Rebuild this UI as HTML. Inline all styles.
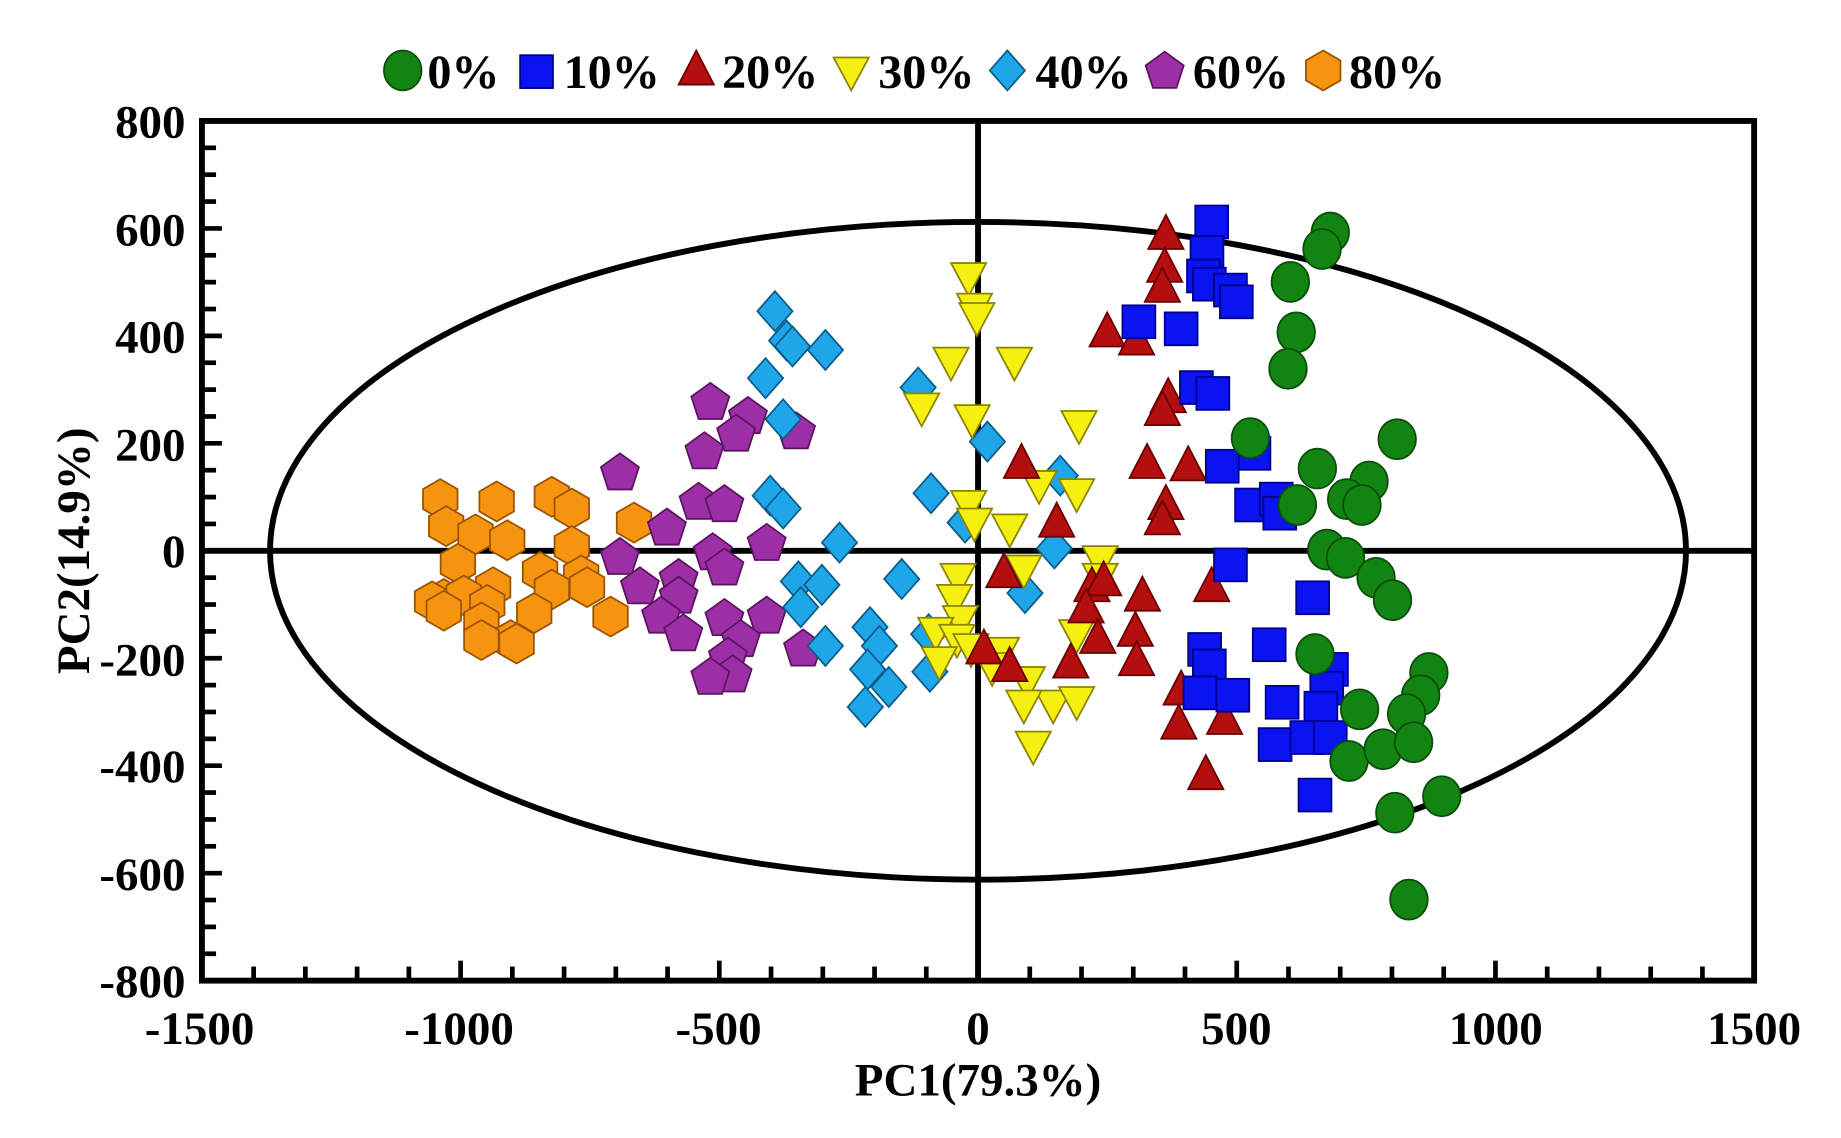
<!DOCTYPE html>
<html><head><meta charset="utf-8"><style>html,body{margin:0;padding:0;background:#fff}svg{display:block}</style></head>
<body>
<svg id="s" width="1841" height="1138" viewBox="0 0 1568 969" preserveAspectRatio="none" xmlns="http://www.w3.org/2000/svg" font-family="Liberation Serif, serif" font-weight="bold">
<rect width="1568" height="969" fill="#fff"/>
<g id="ticks" stroke="#000" stroke-width="4"></g>
<ellipse cx="833" cy="469" rx="603" ry="280" fill="none" stroke="#000" stroke-width="5"/>
<line x1="172" y1="469" x2="1494" y2="469" stroke="#000" stroke-width="5"/>
<line x1="833" y1="103" x2="833" y2="835" stroke="#000" stroke-width="5"/>
<g id="pts"></g>
<rect x="172" y="103" width="1322" height="732" fill="none" stroke="#000" stroke-width="5"/>
<g font-size="40" text-anchor="end">
<text x="158" y="117">800</text><text x="158" y="209">600</text><text x="158" y="300">400</text><text x="158" y="392">200</text><text x="158" y="483">0</text><text x="158" y="575">-200</text><text x="158" y="666">-400</text><text x="158" y="758">-600</text><text x="158" y="849">-800</text>
</g>
<g font-size="40" text-anchor="middle">
<text x="170" y="889">-1500</text><text x="391" y="889">-1000</text><text x="612" y="889">-500</text><text x="833" y="889">0</text><text x="1053" y="889">500</text><text x="1274" y="889">1000</text><text x="1494" y="889">1500</text>
<text x="833" y="933" font-size="40">PC1(79.3%)</text>
<text transform="translate(76,469) rotate(-90)" font-size="40">PC2(14.9%)</text>
</g>
<g id="leg"></g>
<g font-size="41">
<text x="364" y="75">0%</text><text x="480" y="75">10%</text><text x="615" y="75">20%</text><text x="748" y="75">30%</text><text x="882" y="75">40%</text><text x="1016" y="75">60%</text><text x="1149" y="75">80%</text>
</g>
</svg>
<script>
var NS="http://www.w3.org/2000/svg";
function el(p,t,a){var e=document.createElementNS(NS,t);for(var k in a)e.setAttribute(k,a[k]);p.appendChild(e);return e;}
var tk=document.getElementById('ticks');
for(var v=-1500;v<=1500;v+=100){var x=833+v*0.4407;var L=(v%500==0)?17:12;el(tk,'line',{x1:x,y1:835,x2:x,y2:835-L});}
for(var v=-800;v<=800;v+=50){var y=469-v*0.4575;var L=(v%200==0)?17:12;el(tk,'line',{x1:172,y1:y,x2:172+L,y2:y});}
function poly(n,r,rot){var s=[];for(var i=0;i<n;i++){var a=rot+i*2*Math.PI/n;s.push((r*Math.cos(a)).toFixed(1)+','+(r*Math.sin(a)).toFixed(1));}return s.join(' ');}
var shapes={
c:function(g,x,y){el(g,'ellipse',{cx:x,cy:y,rx:16,ry:17,fill:'#118411',stroke:'#0b4d0b','stroke-width':1.5});},
s:function(g,x,y){el(g,'rect',{x:x-14,y:y-14,width:28,height:28,fill:'#0a14f0',stroke:'#00008a','stroke-width':1.5});},
t:function(g,x,y){el(g,'polygon',{points:(x)+','+(y-17)+' '+(x+15)+','+(y+12)+' '+(x-15)+','+(y+12),fill:'#b30f0f',stroke:'#6a0000','stroke-width':1.5});},
v:function(g,x,y){el(g,'polygon',{points:(x-15)+','+(y-12)+' '+(x+15)+','+(y-12)+' '+(x)+','+(y+16),fill:'#f5f011',stroke:'#8a8400','stroke-width':1.5});},
d:function(g,x,y){el(g,'polygon',{points:x+','+(y-17)+' '+(x+15)+','+y+' '+x+','+(y+17)+' '+(x-15)+','+y,fill:'#1ea6e8',stroke:'#0a5d8a','stroke-width':1.5});},
p:function(g,x,y){el(g,'polygon',{points:poly(5,17,-Math.PI/2),transform:'translate('+x+','+y+')',fill:'#9c2ea6',stroke:'#5b155f','stroke-width':1.5});},
h:function(g,x,y){el(g,'polygon',{points:poly(6,17,-Math.PI/2),transform:'translate('+x+','+y+')',fill:'#f7940f',stroke:'#9a5300','stroke-width':1.5});}
};
var data={
c:[[1133,198],[1126,212],[1099,240],[1104,283],[1097,314],[1065,373],[1190,374],[1122,399],[1166,410],[1147,425],[1160,430],[1105,430],[1130,468],[1146,475],[1172,492],[1186,511],[1120,557],[1217,573],[1210,592],[1158,604],[1198,608],[1149,648],[1178,638],[1204,632],[1228,678],[1188,692],[1200,766]],
s:[[1032,189],[1028,215],[1025,235],[1030,242],[1048,247],[1053,257],[970,274],[1006,280],[1019,330],[1033,335],[1068,386],[1041,397],[1066,430],[1087,425],[1090,437],[1048,481],[1118,509],[1081,549],[1026,553],[1030,567],[1022,590],[1050,592],[1134,570],[1130,586],[1092,598],[1125,603],[1086,634],[1113,628],[1133,628],[1120,677]],
t:[[993,200],[992,228],[990,245],[943,283],[968,290],[995,339],[990,350],[870,395],[977,395],[1012,397],[993,430],[990,443],[900,445],[855,488],[930,500],[973,508],[1032,500],[940,495],[925,518],[967,538],[935,544],[968,563],[912,565],[838,553],[860,568],[1006,588],[1025,582],[1004,617],[1043,613],[1027,660]],
v:[[825,236],[830,262],[832,270],[810,308],[864,308],[785,347],[828,357],[919,362],[885,413],[917,420],[825,430],[830,445],[860,450],[872,485],[937,477],[937,492],[816,492],[813,510],[818,528],[797,538],[815,544],[827,552],[853,555],[800,563],[845,568],[917,540],[875,580],[897,600],[917,597],[872,600],[880,635]],
d:[[660,265],[670,290],[675,295],[703,298],[652,322],[782,330],[667,357],[841,376],[903,405],[793,420],[656,422],[667,433],[822,445],[715,462],[898,467],[680,495],[700,498],[768,493],[873,505],[682,517],[741,534],[791,540],[749,550],[703,550],[739,570],[757,585],[792,572],[737,602]],
p:[[605,343],[637,355],[627,370],[678,368],[600,385],[528,403],[595,428],[617,430],[568,450],[653,463],[528,475],[607,471],[617,484],[578,493],[545,500],[578,508],[563,525],[582,540],[653,525],[617,527],[631,545],[684,553],[620,560],[624,575],[605,577]],
h:[[375,425],[423,427],[470,423],[487,433],[380,448],[405,455],[432,460],[540,445],[487,465],[390,480],[495,490],[460,487],[420,500],[378,510],[368,512],[395,507],[470,502],[500,500],[415,515],[455,522],[520,525],[410,530],[378,520],[435,545],[440,548],[410,545]]
};
var g=document.getElementById('pts');
['h','p','d','v','t','s','c'].forEach(function(k){data[k].forEach(function(q){shapes[k](g,q[0],q[1]);});});
var lg=document.getElementById('leg');
shapes.c(lg,343,60);shapes.s(lg,457,61);shapes.t(lg,593,60);shapes.v(lg,725,61);shapes.d(lg,858,60);shapes.p(lg,992,61);shapes.h(lg,1127,60);
</script>
</body></html>
